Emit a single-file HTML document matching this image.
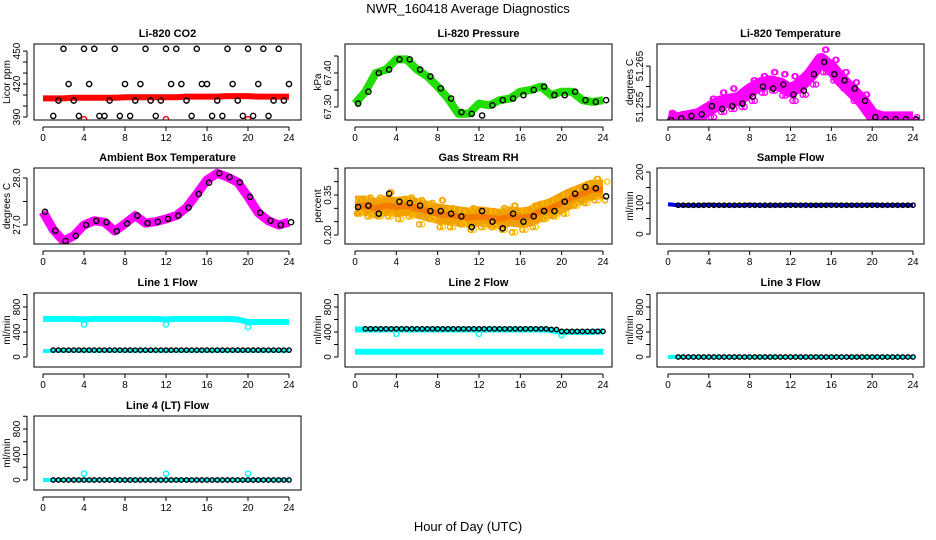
<!DOCTYPE html>
<html><head><meta charset="utf-8"><style>
html,body{margin:0;padding:0;background:#fff;}
svg{display:block;font-family:"Liberation Sans",sans-serif;}
</style></head><body>
<svg id="chart" width="936" height="540" viewBox="0 0 936 540" xmlns="http://www.w3.org/2000/svg">
<text x="468" y="13" font-size="13" text-anchor="middle">NWR_160418  Average Diagnostics</text>
<text x="468" y="531" font-size="13" text-anchor="middle">Hour of Day (UTC)</text>
</svg>
<script>
// ---- data (hourly, t = 0..24) ----
const hours = [0,1,2,3,4,5,6,7,8,9,10,11,12,13,14,15,16,17,18,19,20,21,22,23,24];
const xTicks = [0,4,8,12,16,20,24];

const co2Band = [407,407,407,407.5,407.5,407.5,407.5,407.5,408,408,408,408,408,408,408.5,408.5,408.5,408.5,409,409,409,408.5,408.5,408.5,408.5];
const co2BlackA = [null,391,452,405,452,452,391,452,420,405,452,391,452,452,405,452,420,405,452,405,452,420,391,452,420];
const co2BlackB = [null,405,420,391,420,391,405,391,391,420,405,405,420,420,391,420,391,391,420,391,391,452,405,405,391];
const co2Red = [null,null,null,null,388,null,null,null,null,null,null,null,388,null,null,null,null,null,null,null,388,null,null,null,null];

const presBand = [67.31,67.345,67.40,67.41,67.44,67.44,67.41,67.39,67.36,67.325,67.28,67.28,67.31,67.305,67.32,67.325,67.345,67.35,67.36,67.335,67.345,67.345,67.32,67.315,67.32];
const presBlack = [67.31,67.345,67.40,67.41,67.44,67.44,67.41,67.39,67.355,67.325,67.285,67.28,67.275,67.305,67.32,67.325,67.335,67.35,67.36,67.335,67.335,67.345,67.32,67.315,67.32];

const tempBand = [51.2525,51.252,51.2525,51.253,51.2545,51.256,51.2565,51.257,51.259,51.2605,51.261,51.2605,51.259,51.2605,51.263,51.2665,51.2645,51.2615,51.259,51.2565,51.253,51.2522,51.2522,51.2522,51.2522];
const tempScatterHi = [51.2535,51.2532,51.2535,51.2545,51.257,51.2585,51.2595,51.259,51.2615,51.2625,51.2635,51.263,51.2625,51.2625,51.2655,51.269,51.2665,51.2635,51.261,51.258,51.2535,51.2525,51.2525,51.2525,51.2525];
const tempScatterLo = [51.2518,51.2515,51.2518,51.252,51.2525,51.2538,51.2545,51.255,51.2565,51.2585,51.259,51.2578,51.2565,51.258,51.2605,51.2635,51.2615,51.2595,51.2565,51.2545,51.2522,51.2518,51.2518,51.2518,51.2518];
const tempBlack = [51.2518,51.2522,51.2528,51.2532,51.2552,51.2545,51.2552,51.2558,51.2575,51.260,51.2595,51.2605,51.258,51.259,51.263,51.266,51.263,51.2615,51.2595,51.2565,51.2525,51.252,51.252,51.252,51.252];

const ambBand = [27.28,26.9,26.66,26.77,27.0,27.09,27.06,26.87,27.03,27.2,27.04,27.07,27.13,27.2,27.37,27.66,27.96,28.1,28.02,27.91,27.6,27.26,27.09,27.0,27.06];
const ambBlack = [27.28,26.88,26.66,26.77,27.0,27.09,27.06,26.87,27.03,27.2,27.04,27.07,27.13,27.2,27.37,27.66,27.9,28.1,28.02,27.91,27.6,27.26,27.09,27.0,27.06];

const rhBand = [0.31,0.31,0.30,0.31,0.305,0.31,0.30,0.29,0.28,0.275,0.27,0.265,0.27,0.265,0.26,0.27,0.265,0.27,0.29,0.30,0.32,0.34,0.355,0.37,0.37];
const rhScatterHi = [0.33,0.34,0.34,0.36,0.33,0.34,0.33,0.32,0.33,0.30,0.29,0.30,0.29,0.29,0.30,0.31,0.29,0.31,0.32,0.33,0.35,0.37,0.39,0.41,0.40];
const rhScatterLo = [0.28,0.27,0.27,0.27,0.26,0.27,0.24,0.26,0.23,0.23,0.24,0.22,0.23,0.23,0.22,0.21,0.22,0.23,0.26,0.27,0.28,0.31,0.32,0.33,0.33];
const rhBlack = [0.305,0.31,0.28,0.355,0.325,0.32,0.31,0.29,0.29,0.28,0.27,0.23,0.29,0.25,0.225,0.28,0.25,0.27,0.29,0.29,0.325,0.355,0.38,0.375,0.345];

const sampleBand = [96,93,92,92,95,93,92,92,95,92,92,92,95,93,93,93,95,93,93,93,95,93,93,93,93];
const sampleBlack = [null,93,93,93,93,93,93,93,93,93,93,93,93,93,93,93,93,93,93,93,93,93,93,93,93];

const l1High = [610,610,610,610,600,610,610,610,610,610,610,610,600,610,610,610,610,610,610,600,560,560,560,560,560];
const l1Dips = [null,null,null,null,520,null,null,null,null,null,null,null,520,null,null,null,null,null,null,null,480,null,null,null,null];
const l1Low = [95,100,100,100,100,100,100,100,100,100,100,100,100,100,100,100,100,100,100,100,100,100,100,100,100];
const l1Black = [null,110,110,110,110,110,110,110,110,110,110,110,110,110,110,110,110,110,110,110,110,110,110,110,110];

const l2High = [440,440,440,440,440,440,440,440,440,440,440,440,440,440,440,440,440,440,440,430,400,400,400,400,410];
const l2Dips = [null,null,null,null,370,null,null,null,null,null,null,null,370,null,null,null,null,null,null,null,350,null,null,null,null];
const l2Low = [85,85,85,85,85,85,85,85,85,85,85,85,85,85,85,85,85,85,85,85,85,85,85,85,85];
const l2Black = [null,450,450,450,450,450,450,450,450,450,450,450,450,450,450,450,450,450,450,440,410,410,410,410,410];

const l3Cyan = [0,0,0,0,0,0,0,0,0,0,0,0,0,0,0,0,0,0,0,0,0,0,0,0,0];
const l3Black = [null,0,0,0,0,0,0,0,0,0,0,0,0,0,0,0,0,0,0,0,0,0,0,0,0];

const l4Cyan = [0,0,0,0,0,0,0,0,0,0,0,0,0,0,0,0,0,0,0,0,0,0,0,0,0];
const l4Spikes = [null,null,null,null,100,null,null,null,null,null,null,null,100,null,null,null,null,null,null,null,100,null,null,null,null];
const l4Black = [null,0,0,0,0,0,0,0,0,0,0,0,0,0,0,0,0,0,0,0,0,0,0,0,0];

const co2Ticks=[390,400,410,420,430,440,450], co2Labels=[390,420,450];
const presTicks=[67.30,67.35,67.40,67.45], presLabels=[67.30,67.40];
const tempTicks=[51.255,51.260,51.265], tempLabels=[51.255,51.265];
const ambTicks=[27.0,27.5,28.0], ambLabels=[27.0,28.0];
const rhTicks=[0.20,0.25,0.30,0.35,0.40,0.45], rhLabels=[0.20,0.35];
const sampleTicks=[0,50,100,150,200], sampleLabels=[0,100,200];
const flowTicks=[0,200,400,600,800,1000], flowLabels=[0,400,800];

// ---- layout ----
const NS="http://www.w3.org/2000/svg";
const svg=document.getElementById('chart');
const defs=document.createElementNS(NS,'defs');svg.appendChild(defs);
const cols=[{L:34,R:301,x0:43,x24:289},{L:345,R:612,x0:355,x24:603},{L:657,R:924,x0:668,x24:913}];
const rows=[{T:44,B:120},{T:168,B:244},{T:293,B:367},{T:416,B:490}];

function mk(tag,attrs,parent){const e=document.createElementNS(NS,tag);for(const k in attrs)e.setAttribute(k,attrs[k]);(parent||svg).appendChild(e);return e;}

function panel(name,title,ylab,c,r,ymin,ymax,yTicks,yLabels,fmt,layers){
  const C=cols[c],R=rows[r];
  const g=mk('g',{});
  
  
  const cp=mk('clipPath',{id:'cp-'+name},defs);
  mk('rect',{x:C.L,y:R.T,width:C.R-C.L,height:R.B-R.T},cp);
  const sx=t=>C.x0+(C.x24-C.x0)*t/24;
  const sy=v=>R.B-(v-ymin)/(ymax-ymin)*(R.B-R.T);
  const t=mk('text',{x:(C.L+C.R)/2,y:R.T-7,'font-size':11,'font-weight':'bold','text-anchor':'middle'},g);
  t.textContent=title;
  
  
  const clip=mk('g',{'clip-path':'url(#cp-'+name+')'},g);
  layers.forEach(ly=>{
    if(ly.type==='band'){
      let pts=[];ly.vals.forEach((v,i)=>{if(v!==null)pts.push(sx(hours[i])+','+sy(v));});
      const p=mk('polyline',{points:pts.join(' '),fill:'none',stroke:ly.color,'stroke-width':ly.w,'stroke-linejoin':'round','stroke-linecap':'butt',opacity:ly.op||1},clip);
      
      
    } else {
      ly.vals.forEach((v,i)=>{
        if(v===null)return;
        const cx=sx(hours[i]+(ly.off||0));
        const e=mk('circle',{cx:cx,cy:sy(v),r:ly.r||2.6,fill:ly.fill||'none',stroke:ly.color,'stroke-width':ly.sw||1.4},clip);
        
        
        if(ly.half&&i<hours.length-1){
          const v2=ly.half[i];
          if(v2!==null&&v2!==undefined){
            const e2=mk('circle',{cx:sx(hours[i]+0.5),cy:sy(v2),r:ly.r||2.6,fill:ly.fill||'none',stroke:ly.color,'stroke-width':ly.sw||1.4},clip);
            
            
          }
        }
      });
    }
  });
  const box=mk('rect',{x:C.L,y:R.T,width:C.R-C.L,height:R.B-R.T,fill:'none',stroke:'#000','stroke-width':1},g);
  
  
  mk('line',{x1:sx(0),x2:sx(24),y1:R.B+7,y2:R.B+7,stroke:'#000'},g);
  xTicks.forEach(v=>{
    mk('line',{x1:sx(v),x2:sx(v),y1:R.B+7,y2:R.B+11,stroke:'#000'},g);
    const l=mk('text',{x:sx(v),y:R.B+21,'font-size':10,'text-anchor':'middle'},g);
    l.textContent=v;
    
    
  });
  const ax=C.L-7;
  mk('line',{x1:ax,x2:ax,y1:sy(yTicks[0]),y2:sy(yTicks[yTicks.length-1]),stroke:'#000'},g);
  yTicks.forEach(v=>mk('line',{x1:ax-4,x2:ax,y1:sy(v),y2:sy(v),stroke:'#000'},g));
  yLabels.forEach(v=>{
    const y=sy(v);
    const l=mk('text',{x:ax-7,y:y,'font-size':10,'text-anchor':'middle',transform:`rotate(-90 ${ax-7} ${y})`},g);
    l.textContent=fmt(v);
    
    
  });
  const yl=mk('text',{x:C.L-24,y:(R.T+R.B)/2,'font-size':10,'text-anchor':'middle',transform:`rotate(-90 ${C.L-24} ${(R.T+R.B)/2})`},g);
  yl.textContent=ylab;
  
  
}
const f0=v=>String(v), f1=v=>v.toFixed(1), f2=v=>v.toFixed(2), f3=v=>v.toFixed(3);

panel('co2','Li-820 CO2','Licor ppm',0,0,387.3,456.4,co2Ticks,co2Labels,f0,[
  {type:'band',vals:co2Band,color:'#ff0000',w:6},
  {type:'pts',vals:co2BlackA,color:'#000',half:co2BlackB},
  {type:'pts',vals:co2Red,color:'#ff0000'}]);
panel('pressure','Li-820 Pressure','kPa',1,0,67.2618,67.4853,presTicks,presLabels,f2,[
  {type:'band',vals:presBand,color:'#22dd00',w:8},
  {type:'pts',vals:presBlack,color:'#000',off:0.3}]);
panel('li820-temp','Li-820 Temperature','degrees C',2,0,51.2518,51.2704,tempTicks,tempLabels,f3,[
  {type:'band',vals:tempBand,color:'#ff00ff',w:14},
  {type:'pts',vals:tempScatterHi,color:'#ff00ff',off:0.4,half:tempScatterLo},
  {type:'pts',vals:tempScatterLo,color:'#ff00ff',off:0.2,half:tempScatterHi},
  {type:'pts',vals:tempBlack,color:'#000',off:0.3}]);
panel('ambient','Ambient Box Temperature','degrees C',0,1,26.596,28.213,ambTicks,ambLabels,f1,[
  {type:'band',vals:ambBand,color:'#ff00ff',w:9},
  {type:'pts',vals:ambBlack,color:'#000',off:0.2}]);
panel('rh','Gas Stream RH','percent',1,1,0.1663,0.4513,rhTicks,rhLabels,f2,[
  {type:'band',vals:rhBand,color:'#f0a000',w:20},
  {type:'pts',vals:rhScatterHi,color:'#ffcc00',off:0.4,half:rhScatterLo},
  {type:'pts',vals:rhScatterLo,color:'#f0a000',off:0.2,half:rhScatterHi},
  {type:'band',vals:rhBand,color:'#ff3300',w:6,op:0.35},
  {type:'pts',vals:rhBlack,color:'#000',off:0.3}]);
panel('sample-flow','Sample Flow','ml/min',2,1,-32,213,sampleTicks,sampleLabels,f0,[
  {type:'band',vals:sampleBand,color:'#0000ee',w:4},
  {type:'pts',vals:sampleBlack,color:'#000',r:2.2,half:sampleBlack}]);
panel('line1-flow','Line 1 Flow','ml/min',0,2,-160,1024,flowTicks,flowLabels,f0,[
  {type:'band',vals:l1High,color:'#00ffff',w:6},
  {type:'band',vals:l1Low,color:'#00ffff',w:4},
  {type:'pts',vals:l1Dips,color:'#00ffff'},
  {type:'pts',vals:l1Black,color:'#000',r:2.2,half:l1Black}]);
panel('line2-flow','Line 2 Flow','ml/min',1,2,-160,1024,flowTicks,flowLabels,f0,[
  {type:'band',vals:l2High,color:'#00ffff',w:6},
  {type:'band',vals:l2Low,color:'#00ffff',w:6},
  {type:'pts',vals:l2Dips,color:'#00ffff'},
  {type:'pts',vals:l2Black,color:'#000',r:2.2,half:l2Black}]);
panel('line3-flow','Line 3 Flow','ml/min',2,2,-160,1024,flowTicks,flowLabels,f0,[
  {type:'band',vals:l3Cyan,color:'#00ffff',w:4},
  {type:'pts',vals:l3Black,color:'#000',r:2.2,half:l3Black}]);
panel('line4-flow','Line 4 (LT) Flow','ml/min',0,3,-157,1004,flowTicks,flowLabels,f0,[
  {type:'band',vals:l4Cyan,color:'#00ffff',w:4},
  {type:'pts',vals:l4Spikes,color:'#00ffff'},
  {type:'pts',vals:l4Black,color:'#000',r:2.2,half:l4Black}]);
</script>
</body></html>
